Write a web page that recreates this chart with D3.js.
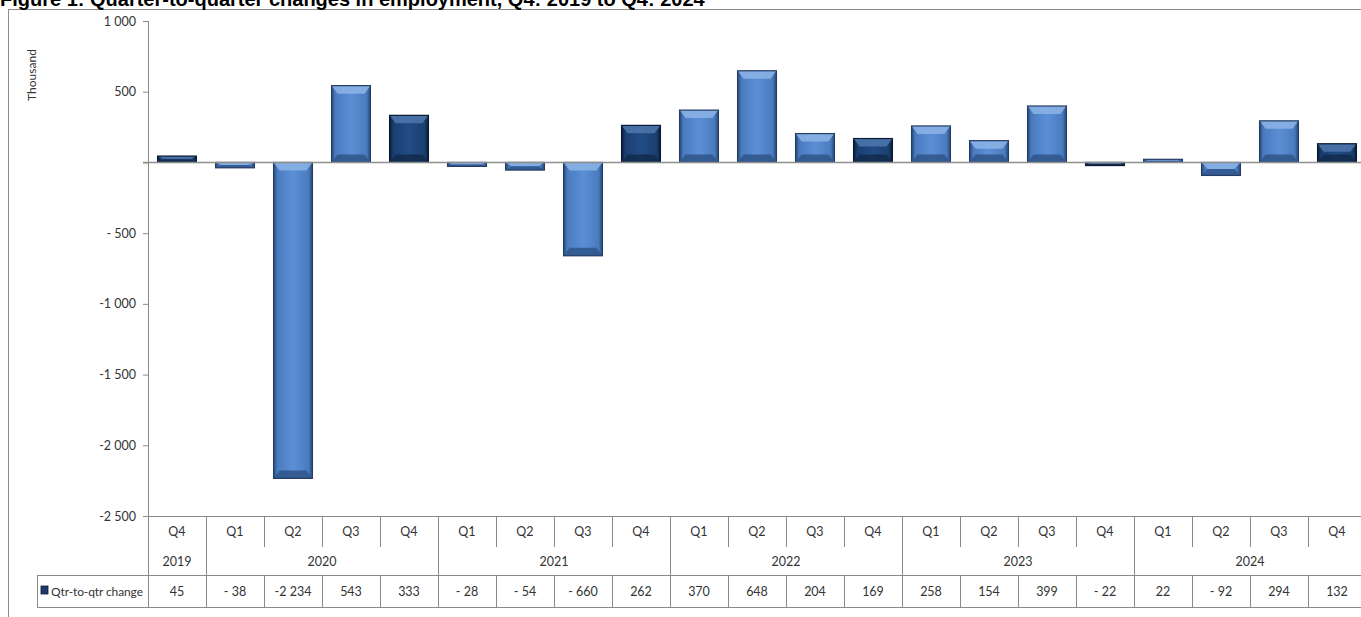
<html>
<head>
<meta charset="utf-8">
<title>Quarter-to-quarter changes in employment</title>
<script src="https://cdn.jsdelivr.net/npm/d3@7"></script>
<style>
    body { margin: 0; background: #fff; }
    svg { display: block; }
    .lbl { font-family: Lato, "Liberation Sans", sans-serif; fill: #333; }
</style>
</head>
<body>
<svg id="chart"></svg>
<script>
// data
const quarters = ["Q4", "Q1", "Q2", "Q3", "Q4", "Q1", "Q2", "Q3", "Q4", "Q1", "Q2", "Q3", "Q4",
                  "Q1", "Q2", "Q3", "Q4", "Q1", "Q2", "Q3", "Q4"]
const years = ["2019", "2020", "2021", "2022", "2023", "2024"]
const yearSpans = [1, 4, 4, 4, 4, 4]
const changes = [45, -38, -2234, 543, 333, -28, -54, -660, 262, 370, 648, 204, 169,
                 258, 154, 399, -22, 22, -92, 294, 132]
const yTicks = [1000, 500, 0, -500, -1000, -1500, -2000, -2500]
const seriesName = "Qtr-to-qtr change"
const title = "Figure 1: Quarter-to-quarter changes in employment, Q4: 2019 to Q4: 2024"

const WIDTH = 1361
const HEIGHT = 617
const AXIS_X = 148
const PLOT_TOP = 21
const PLOT_BOTTOM = 516
const ROW_Q = 547   // end of quarter row separators
const ROW_YEAR = 575
const ROW_DATA = 607
const GRID = "#8a8a8a"

// Excel-like number format: "- 38", "-2 234", "1 000"
function fmt(v) {
    if (v === 0) return ""
    let a = Math.abs(v)
    let s = a >= 1000 ? Math.floor(a / 1000) + " " + String(a % 1000).padStart(3, "0") : String(a)
    if (v < 0) return a >= 1000 ? "-" + s : "- " + s
    return s
}

const svg = d3.select("#chart").attr("width", WIDTH).attr("height", HEIGHT)

// gradients for the bevelled bars
const defs = svg.append("defs")
function hGrad(id, edge, mid, centre) {
    let g = defs.append("linearGradient").attr("id", id).attr("x1", 0).attr("x2", 1).attr("y1", 0).attr("y2", 0)
    g.append("stop").attr("offset", "0%").attr("stop-color", edge)
    g.append("stop").attr("offset", "10%").attr("stop-color", mid)
    g.append("stop").attr("offset", "50%").attr("stop-color", centre)
    g.append("stop").attr("offset", "90%").attr("stop-color", mid)
    g.append("stop").attr("offset", "100%").attr("stop-color", edge)
}
hGrad("light", "#2a4b7c", "#4a7bbf", "#5b8fd5")
hGrad("dark", "#0c1e38", "#1b3f70", "#224c85")

const colors = {
    light: {top: "#8db4e8", bottom: "#2f5589", stroke: "#233d63"},
    dark: {top: "#4e78ad", bottom: "#102a4c", stroke: "#0b1a30"}
}

// outer frame
svg.append("rect")
    .attr("x", 8.5).attr("y", 9.5)
    .attr("width", WIDTH + 10).attr("height", HEIGHT)
    .attr("fill", "none").attr("stroke", "#8c8c8c")

// title sits partly above the top edge, as in the source image
svg.append("text")
    .attr("x", 0).attr("y", 6)
    .attr("font-family", "Liberation Sans, Arial, sans-serif")
    .attr("font-weight", "bold")
    .attr("font-size", 20)
    .attr("fill", "#000")
    .text(title)

// scales
const cols = d3.scaleBand().domain(d3.range(changes.length)).range([AXIS_X, AXIS_X + 58 * changes.length])
const x = d3.scaleBand().domain(d3.range(changes.length))
    .range([AXIS_X, AXIS_X + 58 * changes.length])
    .paddingInner(0.33).paddingOuter(0.165)
const y = d3.scaleLinear().domain([-2500, 1000]).range([PLOT_BOTTOM, PLOT_TOP])

// y axis
const yAxis = d3.axisLeft(y).tickValues(yTicks).tickSize(5).tickPadding(7).tickFormat(fmt)
const ga = svg.append("g").attr("transform", `translate(${AXIS_X},0)`).call(yAxis)
ga.select(".domain").remove()
ga.selectAll(".tick line").attr("stroke", GRID)
ga.selectAll(".tick text")
    .attr("class", "lbl").attr("font-size", 12.5).attr("fill", "#333")

svg.append("text")
    .attr("class", "lbl")
    .attr("transform", `translate(36,75) rotate(-90)`)
    .attr("text-anchor", "middle")
    .attr("font-size", 12)
    .attr("fill", "#444")
    .text("Thousand")

// axis line, runs down through the table
svg.append("line")
    .attr("x1", AXIS_X + 0.5).attr("x2", AXIS_X + 0.5)
    .attr("y1", PLOT_TOP).attr("y2", ROW_DATA)
    .attr("stroke", GRID)

// bars
const bars = svg.append("g")
changes.forEach((v, i) => {
    let kind = quarters[i] === "Q4" ? "dark" : "light"
    let bx = x(i), bw = x.bandwidth()
    let y0 = Math.min(y(v), y(0)), h = Math.abs(y(v) - y(0))
    let bev = Math.min(8, h / 2), side = Math.min(6, bw / 2)
    let g = bars.append("g")
    g.append("rect").attr("x", bx).attr("y", y0).attr("width", bw).attr("height", h)
        .attr("fill", `url(#${kind})`)
    g.append("path")
        .attr("d", `M${bx},${y0}L${bx + bw},${y0}L${bx + bw - side},${y0 + bev}L${bx + side},${y0 + bev}Z`)
        .attr("fill", colors[kind].top).attr("opacity", 0.85)
    g.append("path")
        .attr("d", `M${bx},${y0 + h}L${bx + bw},${y0 + h}L${bx + bw - side},${y0 + h - bev}L${bx + side},${y0 + h - bev}Z`)
        .attr("fill", colors[kind].bottom).attr("opacity", 0.85)
    g.append("rect").attr("x", bx).attr("y", y0).attr("width", bw).attr("height", h)
        .attr("fill", "none").attr("stroke", colors[kind].stroke).attr("stroke-width", 1.2)
})

// zero line
svg.append("line")
    .attr("x1", AXIS_X - 5).attr("x2", WIDTH)
    .attr("y1", Math.round(y(0)) + 0.5).attr("y2", Math.round(y(0)) + 0.5)
    .attr("stroke", "#8f8f8f").attr("stroke-width", 1.3)

// data table
const table = svg.append("g")
function hline(y1, x1, x2) {
    table.append("line").attr("x1", x1).attr("x2", x2).attr("y1", y1 + 0.5).attr("y2", y1 + 0.5).attr("stroke", GRID)
}
function vline(xv, y1, y2) {
    table.append("line").attr("x1", xv + 0.5).attr("x2", xv + 0.5).attr("y1", y1).attr("y2", y2).attr("stroke", GRID)
}
hline(PLOT_BOTTOM, AXIS_X - 5, WIDTH)
hline(ROW_YEAR, 37, WIDTH)
hline(ROW_DATA, 37, WIDTH)
vline(37, ROW_YEAR, ROW_DATA)

let yearStarts = []
let acc = 0
yearSpans.forEach(s => { yearStarts.push(acc); acc += s })

d3.range(1, changes.length + 1).forEach(i => {
    let xv = Math.round(i < changes.length ? cols(i) : cols(i - 1) + cols.bandwidth())
    let full = yearStarts.includes(i)
    vline(xv, PLOT_BOTTOM, full ? ROW_DATA : ROW_Q)
    if (!full) vline(xv, ROW_YEAR, ROW_DATA)
})

table.selectAll(".q").data(quarters).enter().append("text")
    .attr("class", "lbl")
    .attr("x", (d, i) => cols(i) + cols.bandwidth() / 2)
    .attr("y", 536)
    .attr("text-anchor", "middle")
    .attr("font-size", 12.5)
    .text(d => d)

table.selectAll(".yr").data(years).enter().append("text")
    .attr("class", "lbl")
    .attr("x", (d, i) => cols(yearStarts[i]) + cols.bandwidth() * yearSpans[i] / 2)
    .attr("y", 566)
    .attr("text-anchor", "middle")
    .attr("font-size", 12.5)
    .text(d => d)

table.selectAll(".val").data(changes).enter().append("text")
    .attr("class", "lbl")
    .attr("x", (d, i) => cols(i) + cols.bandwidth() / 2)
    .attr("y", 596)
    .attr("text-anchor", "middle")
    .attr("font-size", 12.5)
    .text(d => fmt(d))

// legend key in the data row
table.append("rect")
    .attr("x", 41).attr("y", 586).attr("width", 7).attr("height", 8)
    .attr("fill", "#1c3b68").attr("stroke", "#0b1a30").attr("stroke-width", 0.8)
table.append("text")
    .attr("class", "lbl")
    .attr("x", 51).attr("y", 596)
    .attr("font-size", 12)
    .attr("textLength", 92)
    .text(seriesName)
</script>
</body>
</html>
